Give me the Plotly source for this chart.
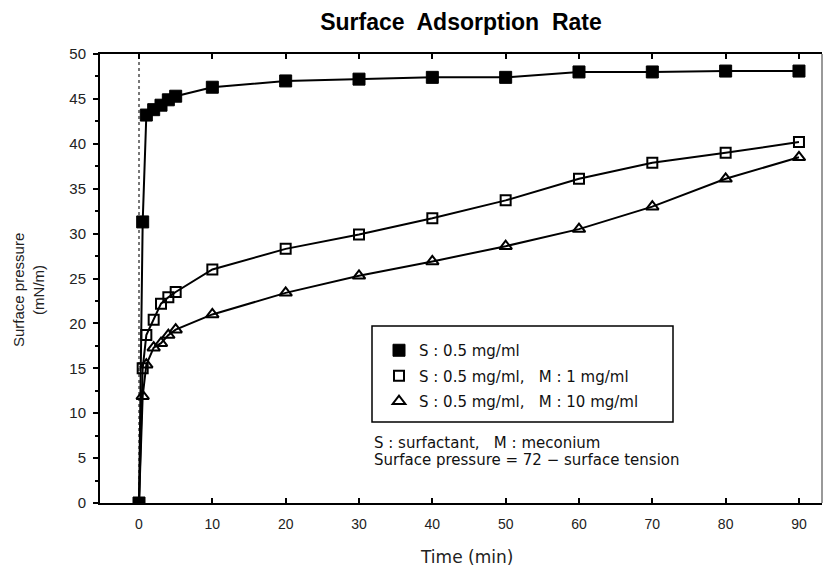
import plotly.graph_objects as go

# ---- data ----
times = [0, 0.5, 1, 2, 3, 4, 5, 10, 20, 30, 40, 50, 60, 70, 80, 90]
s_only = [0, 31.3, 43.2, 43.8, 44.3, 44.9, 45.3, 46.3, 47.0, 47.2, 47.4, 47.4, 48.0, 48.0, 48.1, 48.1]
s_m1 = [0, 15.0, 18.7, 20.4, 22.2, 22.9, 23.5, 26.0, 28.3, 29.9, 31.7, 33.7, 36.1, 37.9, 39.0, 40.2]
s_m10 = [0, 11.9, 15.4, 17.3, 17.8, 18.7, 19.3, 21.0, 23.4, 25.3, 26.9, 28.6, 30.5, 33.0, 36.1, 38.5]

series_names = ["S : 0.5 mg/ml",
                "S : 0.5 mg/ml,   M : 1 mg/ml",
                "S : 0.5 mg/ml,   M : 10 mg/ml"]
notes = ["S : surfactant,   M : meconium",
         "Surface pressure = 72 − surface tension"]
x_ticks = [0, 10, 20, 30, 40, 50, 60, 70, 80, 90]
y_ticks = [0, 5, 10, 15, 20, 25, 30, 35, 40, 45, 50]

FONT = "Liberation Sans, Arial, sans-serif"
WIDE = "DejaVu Sans, Verdana, sans-serif"

# page offset of the plot div (browser body margin)
OFF = 8
W, H = 835, 568
PL, PR, PT, PB = 100, 822, 54, 503  # plot area in page pixels


def px_x(p):
    return (p - PL) / (PR - PL)


def px_y(p):
    return (PB - p) / (PB - PT)


fig = go.Figure()

styles = [
    dict(symbol="square", size=12, color="black", line=dict(color="black", width=1)),
    dict(symbol="square-open", size=10, color="black", line=dict(color="black", width=2)),
    dict(symbol="triangle-up-open", size=11, color="black", line=dict(color="black", width=2)),
]
data = [s_only, s_m1, s_m10]

for i in [2, 1, 0]:
    fig.add_trace(go.Scatter(
        x=times, y=data[i], mode="lines+markers",
        line=dict(color="black", width=2),
        marker=styles[i], showlegend=False, name=series_names[i]))

for i in range(3):
    fig.add_trace(go.Scatter(
        x=[None], y=[None], mode="markers", marker=styles[i],
        name=series_names[i], legendgroup=f"g{i}", showlegend=True))

x0, x1 = -5.32, 93.14

fig.update_layout(
    width=W, height=H,
    margin=dict(l=PL - OFF, r=W - PR + OFF, t=PT - OFF, b=H - PB + OFF),
    paper_bgcolor="white", plot_bgcolor="white",
    font=dict(family=FONT, size=14, color="#111"),
    title=dict(text="<b>Surface  Adsorption  Rate</b>", x=0.5, xref="paper",
               y=1 - (22 - OFF) / H, yanchor="middle",
               font=dict(size=23, color="black")),
    xaxis=dict(range=[x0, x1], tickvals=x_ticks, ticks="inside", ticklen=5,
               tickwidth=1.5, tickcolor="black", showline=True, linewidth=2,
               linecolor="black", mirror="ticks", showgrid=False, zeroline=False,
               ticklabelstandoff=7,
               tickfont=dict(size=14, color="#222")),
    yaxis=dict(range=[0, 50], tickvals=y_ticks, ticks="outside", ticklen=5,
               tickwidth=1.5, tickcolor="black", showline=True, linewidth=2,
               linecolor="black", showgrid=False, zeroline=False,
               ticklabelstandoff=4,
               minor=dict(dtick=2.5, ticks="outside", ticklen=3, tickcolor="black"),
               tickfont=dict(size=15, color="#222")),
    legend=dict(x=px_x(372) + 7 / 722, y=px_y(334), xanchor="left", yanchor="top",
                bgcolor="rgba(0,0,0,0)", borderwidth=0,
                font=dict(family=WIDE, size=15, color="#111"), tracegroupgap=3,
                itemwidth=30),
)

# right frame line
fig.add_shape(type="line", xref="paper", yref="paper", x0=1, x1=1, y0=0, y1=1,
              line=dict(color="#555", width=1.2))
# dotted vertical line at t = 0
fig.add_shape(type="line", xref="x", yref="y", x0=0, x1=0, y0=0, y1=50,
              line=dict(color="#777", width=2, dash="dot"), layer="below")
# legend box
fig.add_shape(type="rect", xref="paper", yref="paper",
              x0=px_x(372), x1=px_x(673), y0=px_y(422), y1=px_y(326),
              line=dict(color="black", width=1.5))

# notes under the legend
for txt, yy in zip(notes, [443, 460]):
    fig.add_annotation(text=txt, xref="paper", yref="paper", x=px_x(372), y=px_y(yy),
                       xanchor="left", yanchor="middle", showarrow=False,
                       font=dict(family=WIDE, size=15, color="#111"))
# axis titles
fig.add_annotation(text="Surface pressure<br>(mN/m)", textangle=-90,
                   xref="paper", yref="paper", x=px_x(28), y=px_y(290),
                   xanchor="center", yanchor="middle", showarrow=False,
                   font=dict(size=15, color="#222"))
fig.add_annotation(text="Time (min)", xref="paper", yref="paper",
                   x=px_x(466), y=px_y(557),
                   xanchor="center", yanchor="middle", showarrow=False,
                   font=dict(family=WIDE, size=17, color="#222"))

fig.write_html("out.html")
